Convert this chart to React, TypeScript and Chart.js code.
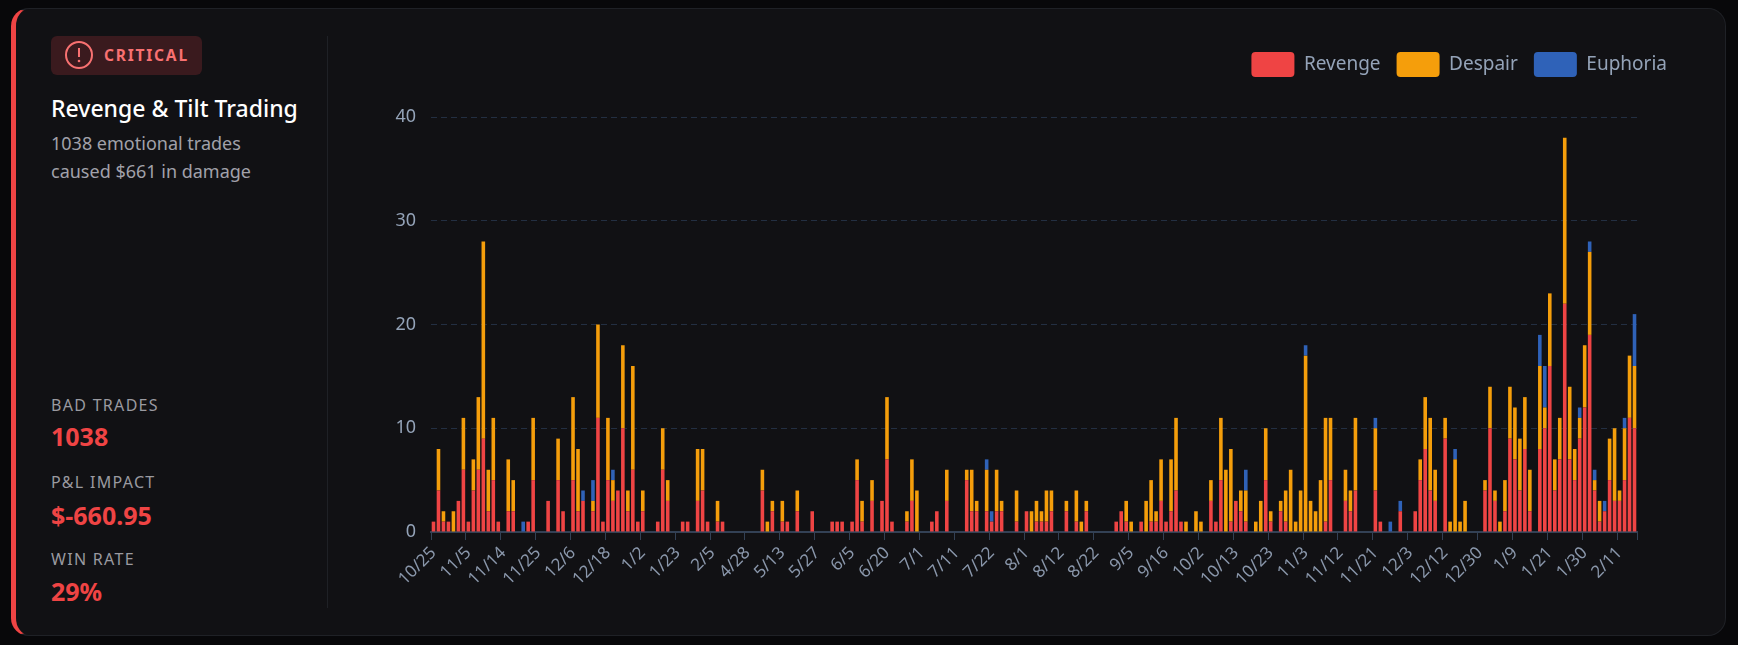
import { useEffect, useRef } from 'react'
import { Chart, registerables } from 'chart.js'

Chart.register(...registerables)

const FONT = '"Noto Sans", sans-serif'

// one label every 7th trading day, the rest stay blank
const TICK_LABELS = [
  '10/25', '11/5', '11/14', '11/25', '12/6', '12/18', '1/2', '1/23', '2/5', '4/28', '5/13', '5/27',
  '6/5', '6/20', '7/1', '7/11', '7/22', '8/1', '8/12', '8/22', '9/5', '9/16', '10/2', '10/13',
  '10/23', '11/3', '11/12', '11/21', '12/3', '12/12', '12/30', '1/9', '1/21', '1/30', '2/11',
]

const REVENGE = [
  1, 4, 1, 1, 0, 3, 6, 1, 4, 6,
  9, 2, 5, 1, 0, 2, 2, 0, 0, 1,
  5, 0, 0, 3, 0, 5, 2, 0, 5, 2,
  3, 0, 2, 11, 1, 5, 3, 4, 10, 2,
  6, 1, 2, 0, 0, 1, 6, 3, 0, 0,
  1, 1, 0, 3, 4, 1, 0, 1, 1, 0,
  0, 0, 0, 0, 0, 0, 4, 0, 2, 0,
  1, 1, 0, 2, 0, 0, 2, 0, 0, 0,
  1, 1, 1, 0, 1, 5, 1, 0, 3, 0,
  3, 7, 1, 0, 0, 1, 3, 0, 0, 0,
  1, 2, 0, 3, 0, 0, 0, 5, 2, 2,
  0, 2, 1, 2, 2, 0, 0, 1, 0, 2,
  0, 1, 1, 1, 2, 0, 0, 2, 0, 1,
  0, 2, 0, 0, 0, 0, 0, 1, 2, 1,
  0, 0, 1, 0, 1, 1, 3, 1, 2, 4,
  1, 0, 0, 0, 0, 0, 3, 1, 5, 0,
  1, 3, 2, 1, 0, 0, 0, 5, 1, 0,
  2, 1, 0, 0, 0, 0, 0, 0, 0, 1,
  5, 0, 0, 3, 2, 4, 0, 0, 0, 4,
  1, 0, 0, 0, 2, 0, 0, 2, 5, 8,
  4, 3, 0, 9, 0, 0, 0, 0, 0, 0,
  0, 4, 10, 3, 0, 2, 9, 7, 4, 8,
  2, 0, 8, 10, 16, 4, 7, 22, 7, 5,
  9, 12, 19, 4, 1, 2, 5, 3, 3, 5,
  11, 10,
]

const DESPAIR = [
  0, 4, 1, 0, 2, 0, 5, 0, 3, 7,
  19, 4, 6, 0, 0, 5, 3, 0, 0, 0,
  6, 0, 0, 0, 0, 4, 0, 0, 8, 6,
  0, 0, 1, 9, 0, 6, 2, 0, 8, 2,
  10, 0, 2, 0, 0, 0, 4, 2, 0, 0,
  0, 0, 0, 5, 4, 0, 0, 2, 0, 0,
  0, 0, 0, 0, 0, 0, 2, 1, 1, 0,
  2, 0, 0, 2, 0, 0, 0, 0, 0, 0,
  0, 0, 0, 0, 0, 2, 2, 0, 2, 0,
  0, 6, 0, 0, 0, 1, 4, 4, 0, 0,
  0, 0, 0, 3, 0, 0, 0, 1, 4, 1,
  0, 4, 0, 4, 1, 0, 0, 3, 0, 0,
  2, 2, 1, 3, 2, 0, 0, 1, 0, 3,
  1, 1, 0, 0, 0, 0, 0, 0, 0, 2,
  1, 0, 0, 3, 4, 1, 4, 0, 5, 7,
  0, 1, 0, 2, 1, 0, 2, 0, 6, 6,
  7, 0, 2, 3, 0, 1, 3, 5, 1, 0,
  1, 3, 6, 1, 4, 17, 3, 2, 5, 10,
  6, 0, 0, 3, 2, 7, 0, 0, 0, 6,
  0, 0, 0, 0, 0, 0, 0, 0, 2, 5,
  7, 3, 0, 2, 1, 7, 1, 3, 0, 0,
  0, 1, 4, 1, 1, 3, 5, 5, 5, 5,
  4, 0, 8, 2, 7, 3, 4, 16, 7, 3,
  2, 6, 8, 1, 2, 0, 4, 7, 1, 5,
  6, 6,
]

const EUPHORIA = [
  0, 0, 0, 0, 0, 0, 0, 0, 0, 0,
  0, 0, 0, 0, 0, 0, 0, 0, 1, 0,
  0, 0, 0, 0, 0, 0, 0, 0, 0, 0,
  1, 0, 2, 0, 0, 0, 1, 0, 0, 0,
  0, 0, 0, 0, 0, 0, 0, 0, 0, 0,
  0, 0, 0, 0, 0, 0, 0, 0, 0, 0,
  0, 0, 0, 0, 0, 0, 0, 0, 0, 0,
  0, 0, 0, 0, 0, 0, 0, 0, 0, 0,
  0, 0, 0, 0, 0, 0, 0, 0, 0, 0,
  0, 0, 0, 0, 0, 0, 0, 0, 0, 0,
  0, 0, 0, 0, 0, 0, 0, 0, 0, 0,
  0, 1, 1, 0, 0, 0, 0, 0, 0, 0,
  0, 0, 0, 0, 0, 0, 0, 0, 0, 0,
  0, 0, 0, 0, 0, 0, 0, 0, 0, 0,
  0, 0, 0, 0, 0, 0, 0, 0, 0, 0,
  0, 0, 0, 0, 0, 0, 0, 0, 0, 0,
  0, 0, 0, 2, 0, 0, 0, 0, 0, 0,
  0, 0, 0, 0, 0, 1, 0, 0, 0, 0,
  0, 0, 0, 0, 0, 0, 0, 0, 0, 1,
  0, 0, 1, 0, 1, 0, 0, 0, 0, 0,
  0, 0, 0, 0, 0, 1, 0, 0, 0, 0,
  0, 0, 0, 0, 0, 0, 0, 0, 0, 0,
  0, 0, 3, 4, 0, 0, 0, 0, 0, 0,
  1, 0, 1, 1, 0, 1, 0, 0, 0, 1,
  0, 5,
]

const CATEGORIES = REVENGE.map((_, i) => (i % 7 === 0 ? TICK_LABELS[i / 7] : ''))

const STATS = [
  { label: 'BAD TRADES', value: '1038', labelTop: 394, valueTop: 419 },
  { label: 'P&L IMPACT', value: '$-660.95', labelTop: 471, valueTop: 498 },
  { label: 'WIN RATE', value: '29%', labelTop: 548, valueTop: 574 },
]

function RiskChart() {
  const canvasRef = useRef<HTMLCanvasElement>(null)

  useEffect(() => {
    if (!canvasRef.current) return
    const chart = new Chart(canvasRef.current, {
      type: 'bar',
      data: {
        labels: CATEGORIES,
        datasets: [
          { label: 'Revenge', data: REVENGE, backgroundColor: '#ef4444', borderColor: '#ef4444' },
          { label: 'Despair', data: DESPAIR, backgroundColor: '#f59e0b', borderColor: '#f59e0b' },
          { label: 'Euphoria', data: EUPHORIA, backgroundColor: '#2f62b8', borderColor: '#2f62b8' },
        ],
      },
      options: {
        responsive: false,
        animation: false,
        plugins: {
          legend: {
            position: 'top',
            align: 'end',
            labels: {
              color: '#94a3b8',
              boxWidth: 43,
              boxHeight: 25,
              padding: 16,
              useBorderRadius: true,
              borderRadius: 4,
              font: { family: FONT, size: 19 },
            },
          },
          tooltip: { enabled: false },
        },
        scales: {
          x: {
            stacked: true,
            afterFit: s => { s.height = 70 },
            grid: {
              offset: true,
              drawOnChartArea: false,
              tickLength: 8,
              tickColor: ctx => (ctx.type !== 'tick' || ctx.index % 7 === 0 ? '#334155' : 'transparent'),
            },
            border: { color: '#334155', width: 2 },
            ticks: {
              autoSkip: false,
              minRotation: 45,
              maxRotation: 45,
              color: '#8a97ab',
              font: { family: FONT, size: 17 },
            },
          },
          y: {
            stacked: true,
            min: 0,
            max: 40,
            afterFit: s => { s.width = 60 },
            grid: { color: '#232f42', drawTicks: false },
            border: { display: false, dash: [6, 4] },
            ticks: { stepSize: 10, padding: 15, color: '#94a3b8', font: { family: FONT, size: 18 } },
          },
          // empty axis, keeps the plot short of the legend's right edge
          pad: {
            type: 'linear',
            position: 'right',
            afterFit: s => { s.width = 46 },
            grid: { display: false },
            border: { display: false },
            ticks: { display: false },
          },
        },
      },
      plugins: [{
        id: 'legendGap',
        beforeInit(c: any) {
          const fit = c.legend.fit
          c.legend.fit = function () {
            fit.call(this)
            this.height += 30
          }
        },
      }],
    })
    return () => chart.destroy()
  }, [])

  return (
    <canvas
      ref={canvasRef}
      width={1312}
      height={566}
      style={{ position: 'absolute', left: 371, top: 36, width: 1312, height: 566 }}
    />
  )
}

export default function App() {
  return (
    <div style={{ position: 'fixed', inset: 0, background: '#08080a', overflow: 'hidden', fontFamily: FONT }}>
      <div style={{
        position: 'absolute', left: 11, top: 8, width: 1715, height: 628, boxSizing: 'border-box',
        background: '#111114', border: '1px solid #1f2126', borderLeft: '5px solid #ef4444', borderRadius: 18,
      }} />

      <div style={{ position: 'absolute', left: 51, top: 36, width: 151, height: 39, background: '#3a1a1e', borderRadius: 6 }} />
      <svg width={30} height={30} viewBox="0 0 30 30" style={{ position: 'absolute', left: 64, top: 40 }}>
        <circle cx={15} cy={15} r={13} fill="none" stroke="#f87171" strokeWidth={2} />
        <line x1={15} y1={8} x2={15} y2={17} stroke="#f87171" strokeWidth={2} />
        <circle cx={15} cy={21} r={1.3} fill="#f87171" />
      </svg>
      <div style={{ position: 'absolute', left: 104, top: 44, color: '#f87171', fontSize: 15.5, fontWeight: 700, letterSpacing: 1.8, lineHeight: '22px' }}>CRITICAL</div>

      <div style={{ position: 'absolute', left: 51, top: 92, color: '#ffffff', fontSize: 23, fontWeight: 500, lineHeight: '32px', whiteSpace: 'nowrap' }}>Revenge &amp; Tilt Trading</div>
      <div style={{ position: 'absolute', left: 51, top: 129, color: '#a1a1aa', fontSize: 18, lineHeight: '28px', whiteSpace: 'nowrap' }}>
        1038 emotional trades<br />caused $661 in damage
      </div>

      {STATS.map(s => (
        <div key={s.label}>
          <div style={{ position: 'absolute', left: 51, top: s.labelTop, color: '#9a9aa0', fontSize: 16, letterSpacing: 1.3, lineHeight: '22px', whiteSpace: 'nowrap' }}>{s.label}</div>
          <div style={{ position: 'absolute', left: 51, top: s.valueTop, color: '#ef4444', fontSize: 25, fontWeight: 700, lineHeight: '34px', whiteSpace: 'nowrap' }}>{s.value}</div>
        </div>
      ))}

      <div style={{ position: 'absolute', left: 327, top: 36, width: 1, height: 572, background: '#1f2126' }} />

      <RiskChart />
    </div>
  )
}
